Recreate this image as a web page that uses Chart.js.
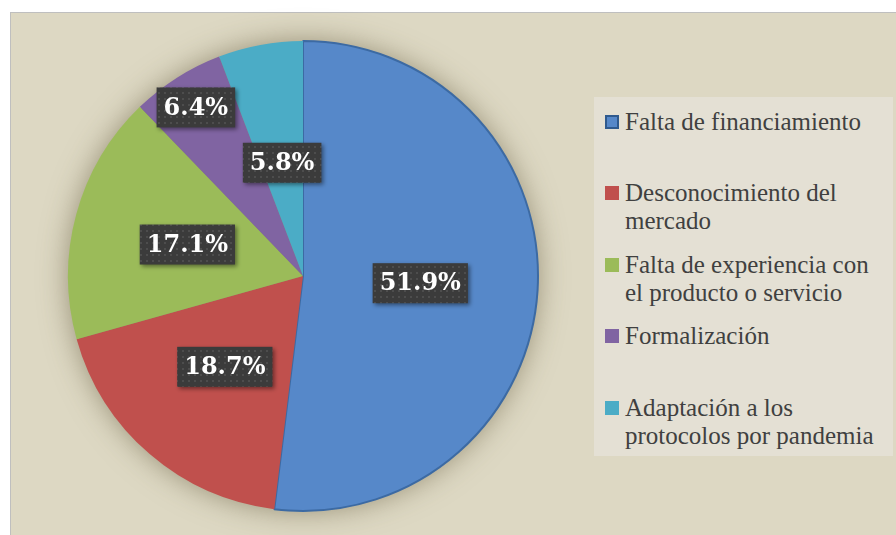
<!DOCTYPE html>
<html>
<head>
<meta charset="utf-8">
<script src="https://cdn.jsdelivr.net/npm/chart.js@4/dist/chart.umd.min.js"></script>
<style>
  html, body { margin: 0; padding: 0; background: #fff; }
  #wrap { position: relative; width: 896px; height: 535px; overflow: hidden; }
  #frame { position: absolute; left: 10px; top: 12px; width: 900px; height: 540px; background: #ddd8c3; border: 1px solid #bfbfbf; }
  #chart { position: absolute; left: 0; top: 0; }
  #legend { position: absolute; left: 594px; top: 97px; width: 299px; height: 359px; background: #e4e0d4;
            font-family: "Liberation Serif", serif; font-size: 25px; color: #404040; }
  .item { position: absolute; left: 0; width: 299px; }
  .mark { position: absolute; left: 11px; width: 14px; height: 14px; }
  .txt { position: absolute; left: 31px; line-height: 28px; white-space: nowrap; }
</style>
</head>
<body>
<div id="wrap">
  <div id="frame"></div>
  <canvas id="chart" width="896" height="535"></canvas>
  <div id="legend"></div>
</div>
<script>
const categories = [
    ['Falta de financiamiento'],
    ['Desconocimiento del', 'mercado'],
    ['Falta de experiencia con', 'el producto o servicio'],
    ['Formalización'],
    ['Adaptación a los', 'protocolos por pandemia']
];
const shares = [51.9, 18.7, 17.1, 6.4, 5.8];
const sliceColors = ['#5688c9', '#c0504d', '#9bbb59', '#8064a2', '#4bacc6'];
const sliceBorders = ['#3c6aa3', '#c0504d', '#9bbb59', '#8064a2', '#4bacc6'];

// how far out (fraction of radius) each label sits
const labelRadius = [0.5, 0.51, 0.51, 0.85, 0.49];

// Legend
const legendEl = document.getElementById('legend');
categories.forEach((lines, i) => {
    const item = document.createElement('div');
    item.className = 'item';
    item.style.top = (11 + i * 71.4) + 'px';
    const mark = document.createElement('div');
    mark.className = 'mark';
    mark.style.top = '7px';
    mark.style.background = sliceColors[i];
    if (i === 0) mark.style.boxShadow = 'inset 0 0 0 2px #2f5a8e';
    const txt = document.createElement('div');
    txt.className = 'txt';
    txt.innerHTML = lines.join('<br>');
    item.appendChild(mark);
    item.appendChild(txt);
    legendEl.appendChild(item);
});

// dotted dark texture for the label boxes
function makeDots() {
    const c = document.createElement('canvas');
    c.width = 6; c.height = 6;
    const g = c.getContext('2d');
    g.fillStyle = '#3b3b3b';
    g.fillRect(0, 0, 6, 6);
    g.fillStyle = '#4d4d4d';
    g.fillRect(2, 2, 2, 2);
    return c;
}

const pieShadow = {
    id: 'pieShadow',
    beforeDatasetsDraw(chart) {
        const arc = chart.getDatasetMeta(0).data[0];
        if (!arc) return;
        const ctx = chart.ctx;
        ctx.save();
        ctx.shadowColor = 'rgba(90, 80, 50, 0.6)';
        ctx.shadowBlur = 30;
        ctx.fillStyle = '#8a8470';
        ctx.beginPath();
        ctx.arc(arc.x, arc.y, arc.outerRadius - 2, 0, Math.PI * 2);
        ctx.fill();
        ctx.restore();
    }
};

const boxLabels = {
    id: 'boxLabels',
    afterDatasetsDraw(chart) {
        const ctx = chart.ctx;
        const pattern = ctx.createPattern(makeDots(), 'repeat');
        chart.getDatasetMeta(0).data.forEach((arc, i) => {
            const mid = (arc.startAngle + arc.endAngle) / 2;
            const r = arc.outerRadius * labelRadius[i];
            const x = arc.x + Math.cos(mid) * r;
            const y = arc.y + Math.sin(mid) * r;
            const text = shares[i].toFixed(1) + '%';
            ctx.save();
            ctx.font = 'bold 24px "DejaVu Serif", serif';
            const w = ctx.measureText(text).width + 14;
            const h = 40;
            ctx.shadowColor = 'rgba(0,0,0,0.45)';
            ctx.shadowBlur = 4;
            ctx.shadowOffsetX = 2;
            ctx.shadowOffsetY = 2;
            ctx.fillStyle = pattern;
            ctx.fillRect(x - w / 2, y - h / 2, w, h);
            ctx.shadowColor = 'transparent';
            ctx.fillStyle = '#ffffff';
            ctx.textAlign = 'center';
            ctx.textBaseline = 'middle';
            ctx.fillText(text, x, y + 1);
            ctx.restore();
        });
    }
};

new Chart(document.getElementById('chart'), {
    type: 'pie',
    data: {
        labels: categories.map(l => l.join(' ')),
        datasets: [{
            data: shares,
            backgroundColor: sliceColors,
            borderColor: sliceBorders,
            borderWidth: [2, 0, 0, 0, 0]
        }]
    },
    options: {
        responsive: false,
        animation: false,
        layout: { padding: { left: 67, top: 40, right: 357, bottom: 23 } },
        plugins: {
            legend: { display: false },
            tooltip: { enabled: false }
        }
    },
    plugins: [pieShadow, boxLabels]
});
</script>
</body>
</html>
